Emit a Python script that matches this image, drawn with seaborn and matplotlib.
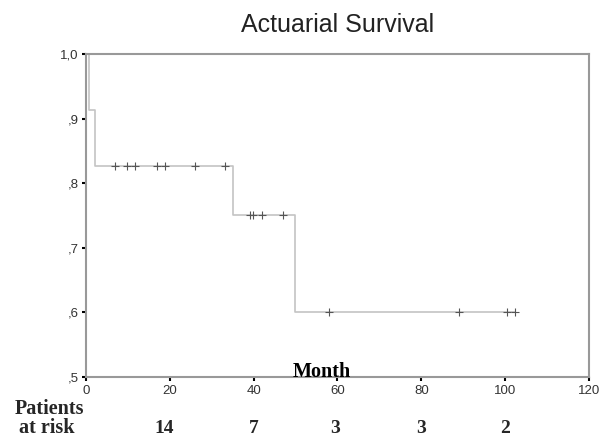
import numpy as np
import pandas as pd
import seaborn as sns
from matplotlib import pyplot as plt
from matplotlib.ticker import FuncFormatter

# step curve (time in months, cumulative survival)
step_times = [0, 0.8, 2.2, 35.1, 49.9, 102.4]
step_surv = [1.0, 0.913, 0.826, 0.751, 0.600, 0.600]

# censored observations
cens_times = [6.9, 9.8, 11.7, 17.0, 18.8, 26.0, 33.2,
              39.1, 39.8, 42.1, 47.0,
              58.0, 89.0, 100.5, 102.4]
cens_surv = [0.826] * 7 + [0.751] * 4 + [0.600] * 4

# patients at risk row
risk_times = [18.6, 40, 59.5, 80, 100]
risk_counts = [14, 7, 3, 3, 2]

sns.set_style("white")
plt.rcParams['font.family'] = ['Liberation Sans', 'DejaVu Sans']

curve = pd.DataFrame({"Month": step_times, "Survival": step_surv})
cens = pd.DataFrame({"Month": cens_times, "Survival": cens_surv})

fig = plt.figure(figsize=(6.07, 4.40), dpi=100)
ax = fig.add_axes([0.1417, 0.1432, 0.8286, 0.7341])

sns.lineplot(data=curve, x="Month", y="Survival", drawstyle="steps-post",
             color="#c4c4c4", linewidth=1.2, ax=ax)
sns.scatterplot(data=cens, x="Month", y="Survival", marker="+", s=40,
                color="#555555", linewidth=0.8, ax=ax, zorder=3)

ax.set_xlim(0, 120)
ax.set_ylim(0.5, 1.0)
ax.set_xticks(np.arange(0, 121, 20))
ax.set_yticks([0.5, 0.6, 0.7, 0.8, 0.9, 1.0])
ax.yaxis.set_major_formatter(FuncFormatter(
    lambda v, p: "1,0" if v >= 0.999 else "," + str(int(round(v * 10)))))

for s in ax.spines.values():
    s.set_color("#999999")
    s.set_linewidth(1.5)

ax.tick_params(axis="both", direction="out", length=3, width=1.5,
               color="black", labelsize=9.5, labelcolor="#333333",
               bottom=True, left=True, pad=2.5)
ax.set_xlabel("")
ax.set_ylabel("")

fig.text(0.556, 0.927, "Actuarial Survival", ha="center", va="baseline",
         fontsize=18, color="#222222")

ax.text(56.3, 0.5, "Month", ha="center", va="baseline", fontsize=14.5,
        fontweight="bold", family="Liberation Serif", color="black")

for t, n in zip(risk_times, risk_counts):
    ax.text(t, -0.173, str(n), transform=ax.get_xaxis_transform(),
            ha="center", va="baseline", fontsize=14, fontweight="bold",
            family="Liberation Serif")

fig.text(0.081, 0.060, "Patients", ha="center", va="baseline",
         fontsize=14.5, fontweight="bold", family="Liberation Serif")
fig.text(0.077, 0.016, "at risk", ha="center", va="baseline",
         fontsize=14.5, fontweight="bold", family="Liberation Serif")

plt.savefig("out.png", dpi=100)
